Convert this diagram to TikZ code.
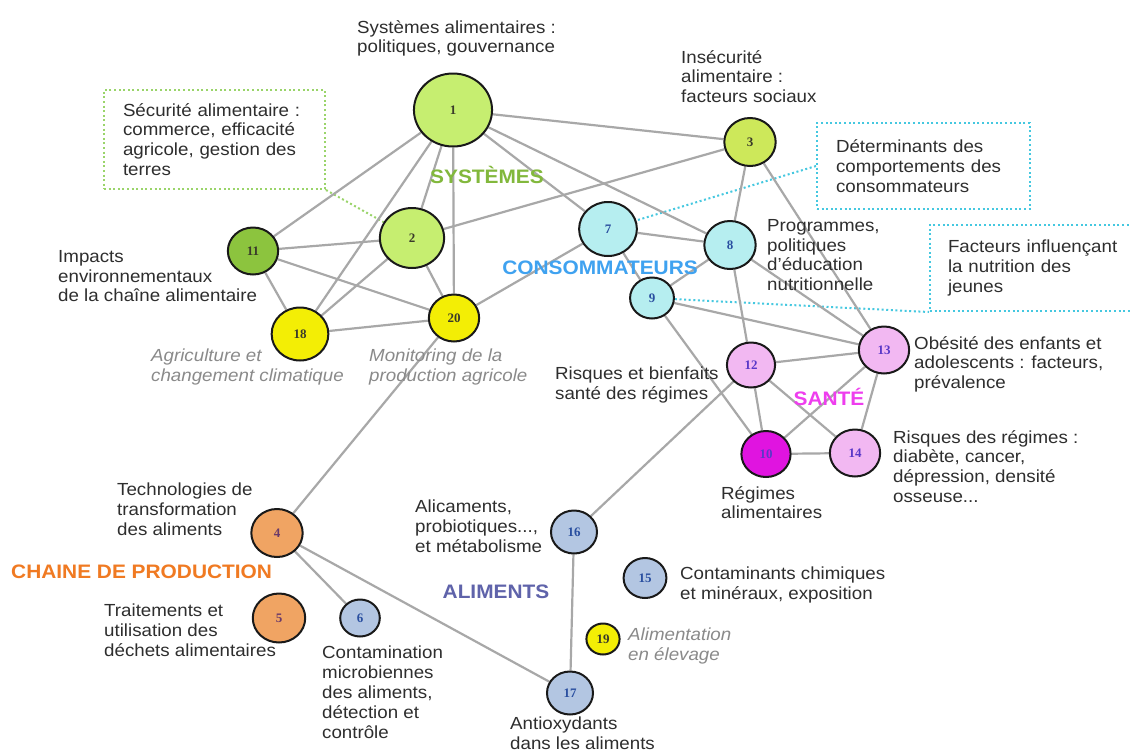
\documentclass[tikz,border=0pt]{standalone}
\usepackage{fontspec}
\setmainfont{Liberation Sans}[FakeStretch=1.07]
\newfontfamily\numfont{Liberation Serif}
\usetikzlibrary{shapes.geometric,backgrounds}

\definecolor{sysgreen}{HTML}{C6EE70}
\definecolor{insgreen}{HTML}{CDE85A}
\definecolor{envgreen}{HTML}{8CC43E}
\definecolor{agyellow}{HTML}{F3EE05}
\definecolor{conscyan}{HTML}{B6EEF0}
\definecolor{santepink}{HTML}{F2B8F2}
\definecolor{regmag}{HTML}{E014E0}
\definecolor{prodorange}{HTML}{F0A463}
\definecolor{alimblue}{HTML}{B3C6E2}
\definecolor{linkgray}{HTML}{A8A8A8}
\definecolor{txtgray}{HTML}{2E2E2E}
\definecolor{itgray}{HTML}{8A8A8A}
\definecolor{boxgreen}{HTML}{9AD46A}
\definecolor{boxblue}{HTML}{45C8E0}
\definecolor{sysfont}{HTML}{82B83C}
\definecolor{consfont}{HTML}{3FA2F0}
\definecolor{santefont}{HTML}{EE3EEE}
\definecolor{prodfont}{HTML}{F07A22}
\definecolor{alimfont}{HTML}{5F63AA}
\definecolor{numdark}{HTML}{3A3A2A}
\definecolor{numblue}{HTML}{2A4FA0}
\definecolor{numpurple}{HTML}{5A38C8}
\definecolor{numbrown}{HTML}{6A3A6A}

\begin{document}
\begin{tikzpicture}[x=1pt,y=-1pt,
nd/.style={ellipse,draw=black!90,line width=2pt,minimum height=#1,minimum width=1.07*#1,font=\numfont\bfseries\fontsize{13}{13}\selectfont},
lnk/.style={draw=linkgray,line width=2.2pt},
txt/.style={anchor=north west,align=left,text=txtgray,font=\fontsize{17.5}{19.8}\selectfont},
itxt/.style={txt,text=itgray,font=\itshape\fontsize{17.5}{19.8}\selectfont},
grp/.style={font=\bfseries\fontsize{19.5}{20}\selectfont},
note/.style={txt,draw=#1,line width=2pt,dash pattern=on 2pt off 2.6pt}]
\tikzstyle{every node}+=[inner sep=0pt]
\useasboundingbox (0,0) rectangle (1130,753);

\node[nd=73,fill=sysgreen,text=numdark] (n1) at (453,110) {1};
\node[nd=60,fill=sysgreen,text=numdark] (n2) at (412,238) {2};
\node[nd=48,fill=insgreen,text=numdark] (n3) at (750,142) {3};
\node[nd=47,fill=envgreen,text=numdark] (n11) at (253,251) {11};
\node[nd=53,fill=agyellow,text=numdark] (n18) at (300,334) {18};
\node[nd=47,fill=agyellow,text=numdark] (n20) at (454,318) {20};
\node[nd=54,fill=conscyan,text=numblue] (n7) at (608,229) {7};
\node[nd=48,fill=conscyan,text=numblue] (n8) at (730,245) {8};
\node[nd=41,fill=conscyan,text=numblue] (n9) at (652,298) {9};
\node[nd=45,fill=santepink,text=numpurple] (n12) at (751,365) {12};
\node[nd=47,fill=santepink,text=numpurple] (n13) at (884,350) {13};
\node[nd=46,fill=regmag,text=numpurple] (n10) at (766,454) {10};
\node[nd=47,fill=santepink,text=numpurple] (n14) at (855,453) {14};
\node[nd=48,fill=prodorange,text=numbrown] (n4) at (277,533) {4};
\node[nd=49,fill=prodorange,text=numbrown] (n5) at (279,618) {5};
\node[nd=37,fill=alimblue,text=numblue] (n6) at (360,618) {6};
\node[nd=43,fill=alimblue,text=numblue] (n16) at (574,532) {16};
\node[nd=40,fill=alimblue,text=numblue] (n15) at (645,578) {15};
\node[nd=31,fill=agyellow,text=numdark] (n19) at (603,639) {19};
\node[nd=43,fill=alimblue,text=numblue] (n17) at (570,693) {17};

\node[note=boxgreen,minimum width=221pt,minimum height=99pt,text width=183pt,inner xsep=19pt] (secu) at (103,89) {Sécurité alimentaire :\\commerce, efficacité\\agricole, gestion des\\terres};
\node[note=boxblue,minimum width=213pt,minimum height=86pt,text width=175pt,inner xsep=19pt] (determ) at (816,122) {Déterminants des\\comportements des\\consommateurs};
\node[note=boxblue,minimum width=215pt,minimum height=86pt,text width=179pt,inner xsep=18pt] (jeunes) at (929,224) {Facteurs influençant\\la nutrition des\\jeunes};

\node[txt] (tsys) at (357,20) {Systèmes alimentaires :\\politiques, gouvernance};
\node[txt] (tinsec) at (681,50) {Insécurité\\alimentaire :\\facteurs sociaux};
\node[txt] (tprog) at (767,219) {Programmes,\\politiques\\d'éducation\\nutritionnelle};
\node[txt] (timp) at (58,250) {Impacts\\environnementaux\\de la chaîne alimentaire};
\node[itxt] (tagri) at (151,349) {Agriculture et\\changement climatique};
\node[itxt] (tmon) at (369,349) {Monitoring de la\\production agricole};
\node[txt] (trisq) at (555,367) {Risques et bienfaits\\santé des régimes};
\node[txt] (tobes) at (914,336) {Obésité des enfants et\\adolescents : facteurs,\\prévalence};
\node[txt] (trisr) at (893,430) {Risques des régimes :\\diabète, cancer,\\dépression, densité\\osseuse...};
\node[txt] (treg) at (721,486) {Régimes\\alimentaires};
\node[txt] (ttech) at (117,483) {Technologies de\\transformation\\des aliments};
\node[txt] (ttrait) at (104,604) {Traitements et\\utilisation des\\déchets alimentaires};
\node[txt] (tcont) at (322,646) {Contamination\\microbiennes\\des aliments,\\détection et\\contrôle};
\node[txt] (talic) at (415,500) {Alicaments,\\probiotiques...,\\et métabolisme};
\node[txt] (tchim) at (680,567) {Contaminants chimiques\\et minéraux, exposition};
\node[itxt] (telev) at (628,628) {Alimentation\\en élevage};
\node[txt] (tanti) at (510,717) {Antioxydants\\dans les aliments};

\node[grp,text=sysfont] (gsys) at (487,175) {SYSTÈMES};
\node[grp,text=consfont] (gcons) at (600,268) {CONSOMMATEURS};
\node[grp,text=santefont] (gsante) at (829,397) {SANTÉ};
\node[grp,text=prodfont,anchor=west] (gprod) at (11,572) {CHAINE DE PRODUCTION};
\node[grp,text=alimfont] (galim) at (496,592) {ALIMENTS};

\begin{scope}[on background layer]
\fill[white] (0,0) rectangle (1130,753);
\draw[boxgreen,line width=2pt,dash pattern=on 2pt off 2.6pt] (secu.south east) -- (n2);
\draw[boxblue,line width=2pt,dash pattern=on 2pt off 2.6pt] (determ.west) -- (n7);
\draw[boxblue,line width=2pt,dash pattern=on 2pt off 2.6pt] (n9) -- (jeunes.south west);
\draw[lnk] (n1) -- (n11);
\draw[lnk] (n1) -- (n2);
\draw[lnk] (n1) -- (n18);
\draw[lnk] (n1) -- (n20);
\draw[lnk] (n1) -- (n7);
\draw[lnk] (n1) -- (n8);
\draw[lnk] (n1) -- (n3);
\draw[lnk] (n2) -- (n11);
\draw[lnk] (n2) -- (n18);
\draw[lnk] (n2) -- (n20);
\draw[lnk] (n2) -- (n3);
\draw[lnk] (n11) -- (n18);
\draw[lnk] (n11) -- (n20);
\draw[lnk] (n18) -- (n20);
\draw[lnk] (n20) -- (n7);
\draw[lnk] (n20) -- (n4);
\draw[lnk] (n7) -- (n8);
\draw[lnk] (n7) -- (n9);
\draw[lnk] (n8) -- (n3);
\draw[lnk] (n8) -- (n9);
\draw[lnk] (n8) -- (n12);
\draw[lnk] (n8) -- (n13);
\draw[lnk] (n3) -- (n13);
\draw[lnk] (n9) -- (n13);
\draw[lnk] (n9) -- (n10);
\draw[lnk] (n12) -- (n13);
\draw[lnk] (n12) -- (n10);
\draw[lnk] (n12) -- (n14);
\draw[lnk] (n12) -- (n16);
\draw[lnk] (n13) -- (n10);
\draw[lnk] (n13) -- (n14);
\draw[lnk] (n10) -- (n14);
\draw[lnk] (n16) -- (n17);
\draw[lnk] (n4) -- (n6);
\draw[lnk] (n4) -- (n17);
\end{scope}
\end{tikzpicture}
\end{document}
